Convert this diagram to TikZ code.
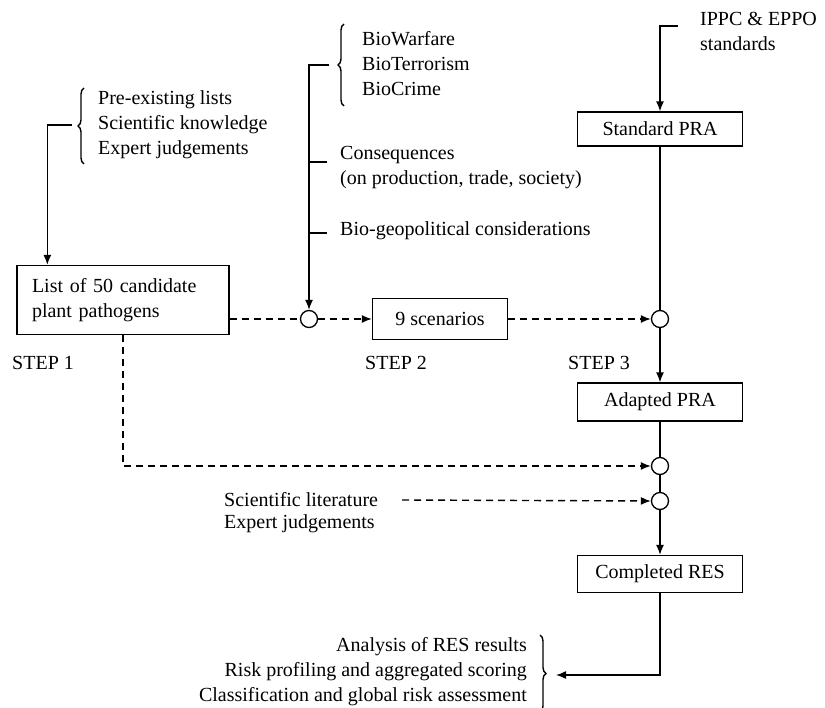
\documentclass[tikz,border=0pt]{standalone}
\usepackage{fontspec}
\setmainfont{Liberation Serif}
\usetikzlibrary{arrows.meta,decorations.pathreplacing,calc}
\begin{document}
\begin{tikzpicture}[x=1pt,y=-1pt,
  every node/.style={font=\fontsize{20}{25}\selectfont},
  box/.style={draw, line width=1.3pt, inner sep=0pt, align=center},
  txt/.style={inner sep=0pt, align=left},
  circ/.style={draw, circle, line width=1.3pt, minimum size=17pt, inner sep=0pt},
  ln/.style={line width=1.4pt},
  arr/.style={ln, -{Latex[length=10pt,width=8pt]}},
  dsh/.style={ln, dash pattern=on 7pt off 5pt},
  brc/.style={ln, decorate, decoration={brace, amplitude=6pt}}]
\useasboundingbox (0,0) rectangle (825,708);

% text blocks
\node[txt, anchor=west] (ippc) at (700,31) {IPPC \& EPPO\\standards};
\node[txt, anchor=west] (bio) at (362,64) {BioWarfare\\BioTerrorism\\BioCrime};
\node[txt, anchor=west] (cons) at (340,168) {Consequences\\(on production, trade, society)};
\node[txt, anchor=west] (geo) at (340,231) {Bio-geopolitical considerations};
\node[txt, anchor=west] (pre) at (98,125) {Pre-existing lists\\Scientific knowledge\\Expert judgements};
\node[txt, anchor=west] (sl) at (224,500) {Scientific literature};
\node[txt, anchor=west] (ej) at (224,524) {Expert judgements};
\node[txt, anchor=east, align=right] (ana) at (527,672) {Analysis of RES results\\Risk profiling and aggregated scoring\\Classification and global risk assessment};
\node[txt, anchor=west] (s1) at (12,363) {STEP 1};
\node[txt, anchor=west] (s2) at (365,363) {STEP 2};
\node[txt, anchor=west] (s3) at (568,363) {STEP 3};

% boxes
\node[box, minimum width=165pt, minimum height=34pt] (std) at (660,129) {Standard PRA};
\node[box, minimum width=135pt, minimum height=41pt] (scen) at (440,319) {9 scenarios};
\node[box, minimum width=165pt, minimum height=38pt] (adp) at (660,402) {Adapted PRA};
\node[box, minimum width=165pt, minimum height=37pt] (cres) at (660,574) {Completed RES};
\node[box, align=left, text width=182pt, minimum width=212pt, minimum height=69pt] (list) at (123,300) {List of 50 candidate\\plant pathogens};

% circles
\node[circ] (c1) at (309,319) {};
\node[circ] (c2) at (660,319) {};
\node[circ] (c3) at (660,466) {};
\node[circ] (c4) at (660,501) {};

% braces
\draw[brc] (84,164) -- (84,88);
\draw[brc] (344,106) -- (344,24);
\draw[brc] (540,635) -- (540,712);

% brace tips / ticks
\coordinate (tpre) at (72,125);
\coordinate (tbio) at (329,65);
\coordinate (tcons) at (327,162);
\coordinate (tgeo) at (327,233);
\coordinate (tippc) at (678,26);
\coordinate (tana) at (556,675);

% connectors
\draw[arr] (tippc) -| (std.north);
\draw[arr] (tpre) -| ([xshift=31pt]list.north west);
\draw[arr] (tbio) -| (c1.north);
\draw[ln] (tcons) -- (tcons -| c1);
\draw[ln] (tgeo) -- (tgeo -| c1);
\draw[dsh] (list.east |- c1) -- (c1.west);
\draw[dsh, arr] (c1.east) -- (scen.west);
\draw[dsh, arr] (scen.east) -- (c2.west);
\draw[ln] (std.south) -- (c2.north);
\draw[arr] (c2.south) -- (adp.north);
\draw[ln] (adp.south) -- (c3.north);
\draw[dsh, arr] (list.south) |- (c3.west);
\draw[ln] (c3.south) -- (c4.north);
\draw[dsh, arr] ([xshift=24pt]sl.east) -- (c4.west);
\draw[arr] (c4.south) -- (cres.north);
\draw[arr] (cres.south) |- (tana);
\end{tikzpicture}
\end{document}
